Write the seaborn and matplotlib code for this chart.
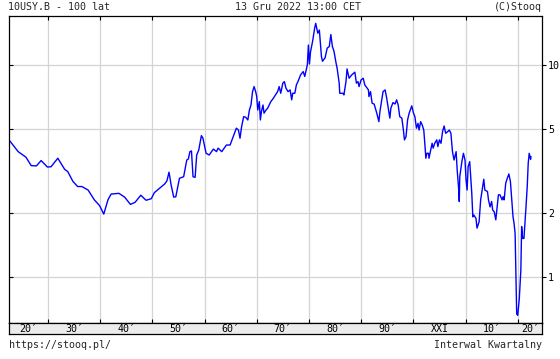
import matplotlib
matplotlib.use("Agg")
import matplotlib.pyplot as plt
import seaborn as sns
import pandas as pd

# ---- data ----
years = [
    1922.7, 1924.3, 1925.8, 1926.8, 1927.8, 1928.7, 1929.9, 1930.6, 1931.9, 1933.2,
    1933.8, 1934.8, 1935.7, 1936.5, 1937.7, 1938.9, 1939.9, 1940.7, 1941.5, 1942.1,
    1943.6, 1944.7, 1945.8, 1946.7, 1947.8, 1948.8, 1949.8, 1950.4, 1951.4, 1952.4,
    1952.8, 1953.2, 1953.6, 1954.1, 1954.5, 1955.2, 1956.0, 1956.6, 1956.9, 1957.2,
    1957.5, 1957.8, 1958.2, 1958.5, 1958.9, 1959.4, 1959.7, 1960.3, 1960.9, 1961.7,
    1962.3, 1962.6, 1963.3, 1964.2, 1964.9, 1965.5, 1966.1, 1966.5, 1966.8, 1967.1,
    1967.5, 1967.9, 1968.3, 1968.6, 1968.9, 1969.2, 1969.5, 1969.8, 1970.0, 1970.2,
    1970.5, 1970.7, 1970.9, 1971.2, 1971.4, 1971.8, 1972.1, 1972.4, 1972.7, 1973.2,
    1973.6, 1974.0, 1974.3, 1974.6, 1975.0, 1975.3, 1975.6, 1976.0, 1976.4, 1976.7,
    1976.9, 1977.3, 1977.6, 1977.9, 1978.4, 1978.9, 1979.2, 1979.7, 1979.9, 1980.1,
    1980.3, 1980.7, 1981.1, 1981.3, 1981.7, 1982.0, 1982.4, 1982.6, 1983.1, 1983.5,
    1983.9, 1984.2, 1984.5, 1984.8, 1985.2, 1985.4, 1985.8, 1985.9, 1986.5, 1986.7,
    1987.1, 1987.3, 1987.7, 1988.2, 1988.8, 1989.1, 1989.4, 1989.6, 1990.0, 1990.4,
    1990.7, 1991.4, 1991.5, 1991.8, 1992.1, 1992.5, 1993.0, 1993.4, 1993.6, 1993.9,
    1994.2, 1994.6, 1994.9, 1995.2, 1995.5, 1995.7, 1996.1, 1996.5, 1996.8, 1997.1,
    1997.4, 1997.8, 1998.1, 1998.3, 1998.6, 1998.9, 1999.2, 1999.7, 2000.0, 2000.3,
    2000.6, 2000.9, 2001.1, 2001.4, 2001.7, 2002.0, 2002.2, 2002.4, 2002.6, 2002.9,
    2003.0, 2003.4, 2003.6, 2003.8, 2004.1, 2004.5, 2004.7, 2005.0, 2005.3, 2005.6,
    2005.9, 2006.2, 2006.6, 2006.9, 2007.2, 2007.5, 2007.8, 2008.2, 2008.4, 2008.7,
    2008.8, 2008.9, 2009.3, 2009.6, 2009.9, 2010.1, 2010.3, 2010.5, 2010.8, 2011.2,
    2011.4, 2011.6, 2012.0, 2012.2, 2012.6, 2012.9, 2013.3, 2013.5, 2013.7, 2014.2,
    2014.4, 2014.7, 2015.0, 2015.2, 2015.5, 2015.8, 2016.0, 2016.3, 2016.6, 2017.0,
    2017.2, 2017.4, 2017.7, 2018.0, 2018.3, 2018.6, 2018.9, 2019.1, 2019.3, 2019.5,
    2019.8, 2020.0, 2020.3, 2020.6, 2020.75, 2020.94, 2021.19, 2021.57, 2021.82, 2022.01,
    2022.2, 2022.47, 2022.53,
]
yields = [
    4.38, 3.90, 3.67, 3.35, 3.34, 3.54, 3.30, 3.31, 3.63, 3.22,
    3.14, 2.82, 2.67, 2.67, 2.57, 2.31, 2.17, 1.98, 2.31, 2.46,
    2.48, 2.38, 2.20, 2.25, 2.43, 2.30, 2.34, 2.50, 2.62, 2.75,
    2.84, 3.12, 2.72, 2.38, 2.39, 2.92, 2.97, 3.56, 3.60, 3.90,
    3.93, 2.97, 2.95, 3.76, 3.97, 4.64, 4.51, 3.83, 3.76, 4.01,
    3.90, 4.05, 3.90, 4.19, 4.19, 4.59, 5.03, 4.93, 4.51, 5.11,
    5.70, 5.66, 5.50, 6.13, 6.47, 7.48, 7.90, 7.48, 7.09, 6.13,
    6.71, 5.50, 6.02, 6.47, 5.92, 6.13, 6.25, 6.47, 6.71, 6.97,
    7.22, 7.48, 7.90, 7.35, 8.20, 8.34, 7.77, 7.48, 7.62, 6.84,
    7.35, 7.35, 8.05, 8.34, 8.97, 9.30, 8.82, 10.0, 12.4, 10.1,
    11.5, 12.9, 14.9, 15.7, 14.1, 14.6, 10.95, 10.4, 10.8, 12.0,
    12.2, 13.9, 12.2, 11.6, 10.2, 9.65, 8.20, 7.35, 7.35, 7.22,
    8.34, 9.57, 8.65, 8.97, 9.24, 8.20, 8.34, 7.90, 8.50, 8.65,
    8.05, 7.62, 7.09, 7.48, 6.60, 6.53, 5.92, 5.40, 6.02, 6.71,
    7.48, 7.62, 6.97, 6.25, 5.61, 6.25, 6.64, 6.54, 6.84, 6.47,
    5.70, 5.61, 4.93, 4.43, 4.59, 5.50, 5.92, 6.41, 5.96, 5.70,
    5.03, 5.30, 4.93, 5.40, 5.21, 4.93, 4.27, 3.63, 3.83, 3.83,
    3.63, 4.05, 4.27, 4.05, 4.27, 4.43, 4.12, 4.43, 4.27, 4.85,
    5.15, 4.76, 4.85, 4.93, 4.76, 3.90, 3.56, 3.90, 3.20, 2.57,
    2.27, 2.97, 3.50, 3.83, 3.56, 2.87, 2.57, 3.31, 3.50, 2.48,
    1.92, 1.96, 1.89, 1.70, 1.82, 2.31, 2.67, 2.89, 2.57, 2.53,
    2.31, 2.14, 2.27, 2.07, 2.03, 1.86, 2.07, 2.44, 2.44, 2.31,
    2.39, 2.31, 2.77, 2.92, 3.06, 2.82, 2.22, 1.92, 1.79, 1.60,
    0.67, 0.66, 0.79, 1.08, 1.73, 1.52, 1.52, 2.11, 2.67, 3.44,
    3.83, 3.59, 3.70,
]
decade_starts = [1920, 1930, 1940, 1950, 1960, 1970, 1980, 1990, 2000, 2010, 2020]
decade_labels = ["20\u2032", "30\u2032", "40\u2032", "50\u2032", "60\u2032", "70\u2032",
                 "80\u2032", "90\u2032", "XXI", "10\u2032", "20\u2032"]
ytick_values = [1, 2, 5, 10]
ytick_labels = ["1", "2", "5", "10"]
title_left = "10USY.B - 100 lat"
title_mid = "13 Gru 2022 13:00 CET"
title_right = "(C)Stooq"
foot_left = "https://stooq.pl/"
foot_right = "Interwal Kwartalny"

df = pd.DataFrame({"year": years, "yield": yields})

sns.set_theme(style="white")
plt.rcParams["font.family"] = ["DejaVu Sans Mono", "DejaVu Sans"]

W, H = 560, 359
fig = plt.figure(figsize=(W / 100, H / 100), dpi=100)
fig.patch.set_facecolor("white")

L, R, T, B, BB = 8.5, 542, 16, 323, 334
ax = fig.add_axes([L / W, 1 - B / H, (R - L) / W, (B - T) / H])
band = fig.add_axes([L / W, 1 - BB / H, (R - L) / W, (BB - B) / H])

sns.lineplot(data=df, x="year", y="yield", ax=ax, color="#0000ff", linewidth=1.0,
             estimator=None, sort=False, legend=False)

xmin, xmax = 1922.45, 2024.65
ax.set_yscale("log")
ax.set_xlim(xmin, xmax)
ax.set_ylim(0.607, 17.0)
ax.set_facecolor("white")

grid_x = decade_starts[1:]
ax.set_xticks(grid_x)
ax.set_yticks(ytick_values)
ax.yaxis.set_minor_locator(matplotlib.ticker.NullLocator())
ax.xaxis.set_minor_locator(matplotlib.ticker.NullLocator())
ax.grid(True, color="#d4d4d4", linewidth=0.9)
ax.set_axisbelow(True)
ax.tick_params(axis="x", direction="in", length=3, width=0.8, color="black",
               top=True, bottom=True, labelbottom=False, labeltop=False)
ax.tick_params(axis="y", direction="in", length=3, width=0.8, color="black",
               left=True, right=False, labelleft=False, labelright=False)
ax.set_xlabel("")
ax.set_ylabel("")
for s in ax.spines.values():
    s.set_color("black")
    s.set_linewidth(0.9)

# right-hand outward ticks with labels
ax2 = ax.twinx()
ax2.set_yscale("log")
ax2.set_ylim(ax.get_ylim())
ax2.set_yticks(ytick_values)
ax2.set_yticklabels(ytick_labels)
ax2.yaxis.set_minor_locator(matplotlib.ticker.NullLocator())
ax2.tick_params(axis="y", direction="out", length=3, width=0.8, color="black",
                pad=1.5, labelsize=7.2, labelcolor="black")
for s in ax2.spines.values():
    s.set_visible(False)

# decade band
band.set_xlim(xmin, xmax)
band.set_ylim(0, 1)
band.set_facecolor("#ececec")
band.set_xticks([])
band.set_yticks([])
for s in band.spines.values():
    s.set_color("black")
    s.set_linewidth(0.9)
for start, lab in zip(decade_starts, decade_labels):
    a = max(start, xmin)
    b = min(start + 10, xmax)
    band.text((a + b) / 2, 0.45, lab, ha="center", va="center", fontsize=7.2,
              color="black")

fig.text(L / W, 1 - 7.5 / H, title_left, ha="left", va="center", fontsize=7.2)
fig.text(298 / W, 1 - 7.5 / H, title_mid, ha="center", va="center", fontsize=7.2)
fig.text(R / W, 1 - 7.5 / H, title_right, ha="right", va="center", fontsize=7.2)
fig.text(L / W, 1 - 344.5 / H, foot_left, ha="left", va="center", fontsize=7.2)
fig.text(R / W, 1 - 344.5 / H, foot_right, ha="right", va="center", fontsize=7.2)

fig.savefig("out.png", dpi=100, facecolor="white")
